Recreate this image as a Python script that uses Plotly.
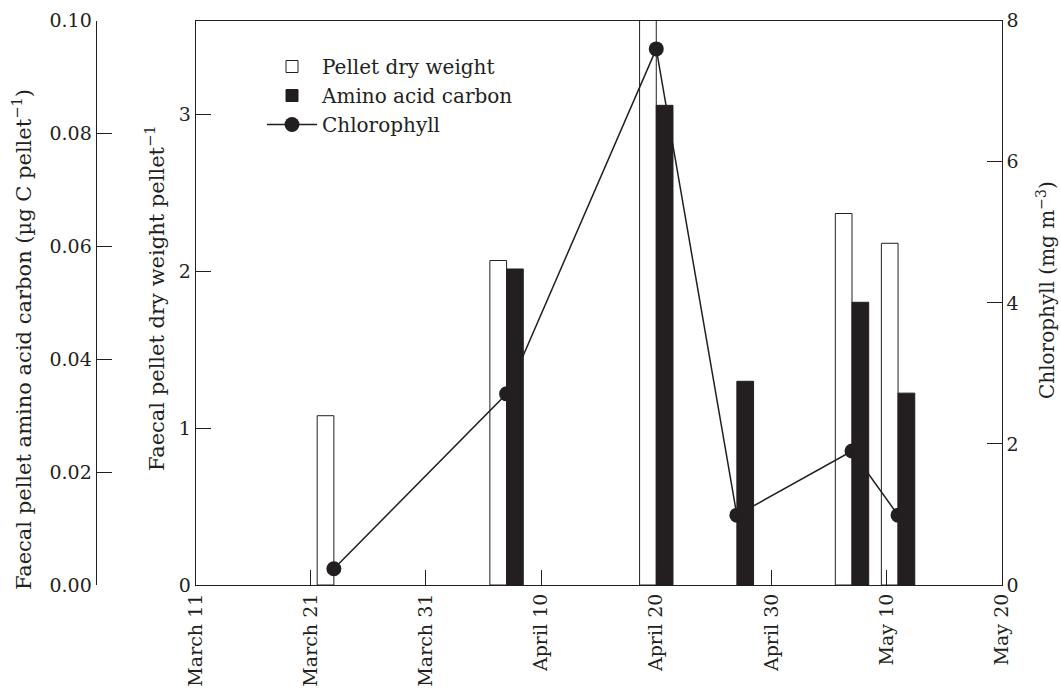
import plotly.graph_objects as go

# ---- data ----
dates = ["2000-03-23", "2000-04-07", "2000-04-20", "2000-04-27", "2000-05-07", "2000-05-11"]
dry_weight = [1.08, 2.07, 3.9, None, 2.37, 2.18]
amino_carbon = [None, 0.0560, 0.0850, 0.0361, 0.0501, 0.0340]
chlorophyll = [0.23, 2.71, 7.60, 0.99, 1.90, 0.99]

x_tickvals = ["2000-03-11", "2000-03-21", "2000-03-31", "2000-04-10",
              "2000-04-20", "2000-04-30", "2000-05-10", "2000-05-20"]
x_ticktext = ["March 11", "March 21", "March 31", "April 10",
              "April 20", "April 30", "May 10", "May 20"]

INK = "#231f20"
FONT = "DejaVu Serif"
TICK = 19
TITLE = 21
DAY = 86400000
BW = 1.45 * DAY

W, H = 1061, 693
x0, x1 = 195.7 / W, 1001.7 / W
y0, y1 = (H - 585) / H, (H - 20.7) / H

fig = go.Figure()
fig.add_trace(go.Bar(
    x=dates, y=dry_weight, name="Pellet dry weight", yaxis="y",
    width=BW, offset=-BW, marker=dict(color="white", line=dict(color=INK, width=1)),
))
fig.add_trace(go.Bar(
    x=dates, y=amino_carbon, name="Amino acid carbon", yaxis="y3",
    width=BW, offset=0, marker=dict(color=INK, line=dict(color=INK, width=1)),
))
fig.add_trace(go.Scatter(
    x=dates, y=chlorophyll, name="Chlorophyll", yaxis="y2", mode="lines+markers",
    line=dict(color=INK, width=1.5), marker=dict(color=INK, size=15),
))

axis_common = dict(showline=True, linecolor=INK, linewidth=1.2, ticks="inside",
                   ticklen=15, tickcolor=INK, tickwidth=1, showgrid=False, zeroline=False,
                   automargin=False,
                   tickfont=dict(family=FONT, size=TICK, color=INK))

fig.update_layout(
    width=W, height=H,
    margin=dict(l=0, r=0, t=0, b=0, autoexpand=False),
    paper_bgcolor="white", plot_bgcolor="white",
    font=dict(family=FONT, size=TICK, color=INK),
    barmode="overlay",
    showlegend=True,
    legend=dict(x=262 / W, y=(H - 47) / H, xanchor="left", yanchor="top",
                bgcolor="rgba(0,0,0,0)", font=dict(family=FONT, size=20, color=INK),
                itemwidth=50, tracegroupgap=0, traceorder="normal"),
    xaxis=dict(axis_common, domain=[x0, x1], type="date",
               range=["2000-03-11", "2000-05-20"], tickvals=x_tickvals,
               ticktext=x_ticktext, tickangle=-90, mirror=True, anchor="y"),
    yaxis=dict(axis_common, domain=[y0, y1], range=[0, 3.6], tickvals=[0, 1, 2, 3],
               anchor="x", side="left"),
    yaxis2=dict(axis_common, range=[0, 8], tickvals=[0, 2, 4, 6, 8],
                overlaying="y", side="right", anchor="x"),
    yaxis3=dict(axis_common, range=[0, 0.1], tickvals=[0, 0.02, 0.04, 0.06, 0.08, 0.10],
                tickformat=".2f", overlaying="y", side="left", anchor="free",
                position=95.7 / W),
)

# axis titles as rotated text
titles = [
    ("Faecal pellet amino acid carbon (µg C pellet<sup>−1</sup>)", 22, 340, TITLE),
    ("Faecal pellet dry weight pellet<sup>−1</sup>", 155, 298, TITLE),
    ("Chlorophyll (mg m<sup>−3</sup>)", 1046, 290, 20),
]
for text, px, py, fs in titles:
    fig.add_annotation(text=text, xref="paper", yref="paper", x=px / W, y=(H - py) / H,
                       xanchor="center", yanchor="middle", textangle=-90, showarrow=False,
                       font=dict(family=FONT, size=fs, color=INK))

fig.write_html("out.html")
